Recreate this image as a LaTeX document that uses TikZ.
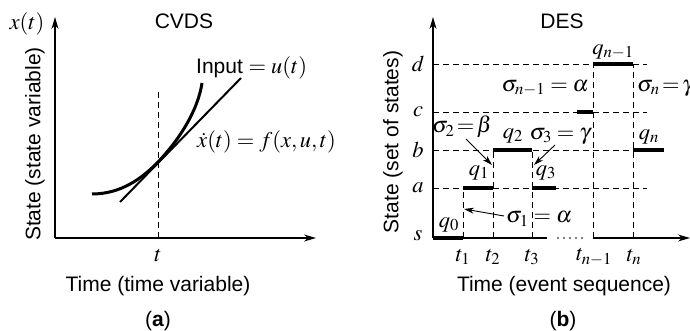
\documentclass[tikz,border=0pt]{standalone}
\usepackage{mathptmx}
\usepackage{fontspec}
\setmainfont{Liberation Sans}
\usetikzlibrary{arrows.meta}
\newcommand{\mfs}{\fontsize{22.5}{27}\selectfont}
\begin{document}
\begin{tikzpicture}[x=1pt,y=-1pt,
  lbl/.style={inner sep=0pt, font=\fontsize{21}{25}\selectfont},
  mlbl/.style={inner sep=0pt, font=\mfs},
  axis/.style={line width=1.3pt, -{Stealth[length=12pt,width=7pt]}},
  guide/.style={line width=0.9pt, dash pattern=on 6pt off 4pt},
  seg/.style={line width=3.8pt},
  ann/.style={line width=0.9pt, -{Stealth[length=10pt,width=6pt]}},
]
\useasboundingbox (0,0) rectangle (690,331);
% ---------- left panel (a)
\coordinate (O1) at (55,238);
\coordinate (Y1) at (55,17);
\coordinate (X1) at (316,238);
\draw[axis] (O1) -- (Y1);
\draw[axis] (O1) -- (X1);
\node[mlbl] (xt) at (27,24) {$x(t)$};
\node[lbl] (cvds) at (184,21) {CVDS};
\coordinate (tt) at (158,238);
\coordinate (ttop) at (158,90);
\draw[guide] (tt) -- (ttop);
\node[mlbl] (tlab) at (158,256) {$t$};
\node[lbl] (xlab1) at (158,286) {Time (time variable)};
\node[lbl,rotate=90] (ylab1) at (35,144) {State (state variable)};
\node[lbl] (capa) at (158,321) {(\textbf{a})};
\coordinate (c0) at (92,194);
\coordinate (cm) at (158,162);
\coordinate (c1) at (202,83);
\draw[line width=3pt] (c0) .. controls (120,194) and (141,179.5) .. (cm) .. controls (180,139) and (198,110) .. (c1);
\coordinate (l0) at (120,202);
\coordinate (l1) at (241,78);
\draw[line width=2pt] (l0) -- (l1);
\node[lbl, anchor=west] (inp) at (196,68) {Input {\mfs$= u(t)$}};
\node[mlbl, anchor=west] (fx) at (197,142) {$\dot{x}(t) = f(x,u,t)$};
% ---------- right panel (b)
\coordinate (O2) at (433,238);
\coordinate (Y2) at (433,17);
\coordinate (Xb) at (547,238);
\coordinate (D0) at (558,238);
\coordinate (D1) at (586,238);
\coordinate (Xc) at (593,238);
\coordinate (X2) at (690,238);
\draw[axis] (O2) -- (Y2);
\draw[line width=1.3pt] (O2) -- (Xb);
\draw[line width=1.6pt, line cap=round, dash pattern=on 0pt off 6pt] (D0) -- (D1);
\draw[axis] (Xc) -- (X2);
% levels
\foreach \n/\y in {a/188, b/150, c/112, d/64}{
  \coordinate (L\n) at (433,\y);
  \coordinate (R\n) at (647,\y);
  \draw[guide] (L\n) -- (R\n);
  \node[mlbl] (lab\n) at (418,\y) {$\n$};
}
\node[mlbl] (labs) at (418,236) {$s$};
% verticals
\coordinate (t1b) at (463,238); \coordinate (t1t) at (463,188);
\coordinate (t2b) at (493,238); \coordinate (t2t) at (493,150);
\coordinate (t3b) at (532,238); \coordinate (t3t) at (532,150);
\coordinate (t4b) at (593,238); \coordinate (t4t) at (593,64);
\coordinate (t5b) at (633,238); \coordinate (t5t) at (633,64);
\draw[guide] (t1b) -- (t1t);
\draw[guide] (t2b) -- (t2t);
\draw[guide] (t3b) -- (t3t);
\draw[guide] (t4b) -- (t4t);
\draw[guide] (t5b) -- (t5t);
% state segments
\coordinate (s0a) at (433,238); \coordinate (s0b) at (463,238);
\coordinate (s1a) at (463,188); \coordinate (s1b) at (493,188);
\coordinate (s2a) at (493,150); \coordinate (s2b) at (532,150);
\coordinate (s3a) at (532,188); \coordinate (s3b) at (556,188);
\coordinate (s4a) at (577,112); \coordinate (s4b) at (593,112);
\coordinate (s5a) at (593,64);  \coordinate (s5b) at (633,64);
\coordinate (s6a) at (633,150); \coordinate (s6b) at (664,150);
\draw[seg] (s0a) -- (s0b);
\draw[seg] (s1a) -- (s1b);
\draw[seg] (s2a) -- (s2b);
\draw[seg] (s3a) -- (s3b);
\draw[seg] (s4a) -- (s4b);
\draw[seg] (s5a) -- (s5b);
\draw[seg] (s6a) -- (s6b);
% state labels
\node[mlbl] (q0) at (449,225) {$q_0$};
\node[mlbl] (q1) at (479,173) {$q_1$};
\node[mlbl] (q2) at (513,136) {$q_2$};
\node[mlbl] (q3) at (546,173) {$q_3$};
\node[mlbl] (qn1) at (613,52) {$q_{n-1}$};
\node[mlbl] (qn) at (649,137) {$q_n$};
% time labels
\node[mlbl] (tl1) at (463,257) {$t_1$};
\node[mlbl] (tl2) at (493,257) {$t_2$};
\node[mlbl] (tl3) at (532,257) {$t_3$};
\node[mlbl] (tl4) at (594,257) {$t_{n-1}$};
\node[mlbl] (tl5) at (634,257) {$t_n$};
% events
\node[mlbl, anchor=west] (sg1) at (506,219) {$\sigma_1 = \alpha$};
\coordinate (a1s) at (504,216); \coordinate (a1e) at (464,209);
\draw[ann] (a1s) -- (a1e);
\node[mlbl] (sg2) at (462,127) {$\sigma_2\!=\!\beta$};
\coordinate (a2s) at (466,139); \coordinate (a2e) at (492,165);
\draw[ann] (a2s) -- (a2e);
\node[mlbl] (sg3) at (560,136) {$\sigma_3 = \gamma$};
\coordinate (a3s) at (555,145); \coordinate (a3e) at (534,165);
\draw[ann] (a3s) -- (a3e);
\node[mlbl, anchor=east] (sgn1) at (589,88) {$\sigma_{n-1} = \alpha$};
\node[mlbl, anchor=west] (sgn) at (637,88) {$\sigma_n\,{=}\,\gamma$};
% captions
\node[lbl] (des) at (562,21) {DES};
\node[lbl] (xlab2) at (564,286) {Time (event sequence)};
\node[lbl,rotate=90] (ylab2) at (393,142) {State (set of states)};
\node[lbl] (capb) at (563,321) {(\textbf{b})};
\end{tikzpicture}
\end{document}
